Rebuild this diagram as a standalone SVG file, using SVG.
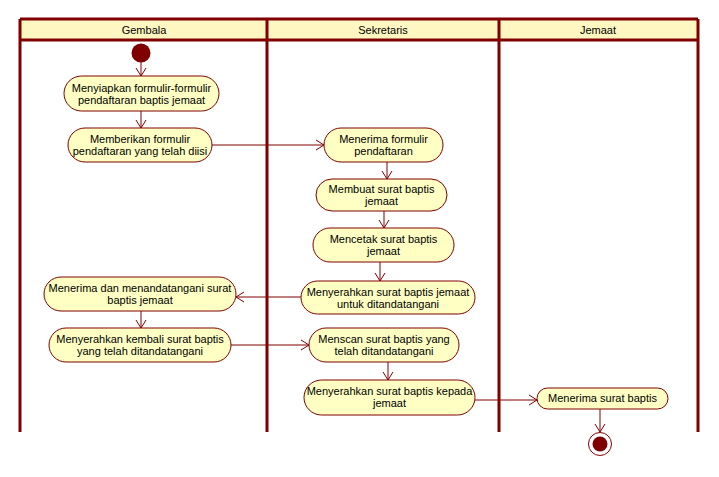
<svg xmlns="http://www.w3.org/2000/svg" width="719" height="477" viewBox="0 0 719 477">
  <style>
    .lane { stroke: #800000; stroke-width: 3; fill: none; }
    .head { fill: #FFF7C2; stroke: none; }
    .act rect { fill: #FFFFC4; stroke: #800000; stroke-width: 1; }
    text { font-family: "Liberation Sans", Arial, sans-serif; font-size: 11px; fill: #000; text-anchor: middle; }
    .flow { stroke: #800000; stroke-width: 1; fill: none; marker-end: url(#arrow); }
  </style>
  <defs>
    <marker id="arrow" markerWidth="10" markerHeight="12" refX="9" refY="6" orient="auto" markerUnits="userSpaceOnUse">
      <path d="M1,1 L9,6 L1,11" fill="none" stroke="#800000" stroke-width="1"/>
    </marker>
  </defs>
  <rect width="719" height="477" fill="#fff"/>

  <!-- swimlanes -->
  <g id="swimlanes">
    <rect class="head" x="20" y="19" width="678" height="21"/>
    <path class="lane" d="M20,19 H698 M20,40 H698 M20,19 V432 M267,19 V432 M499,19 V432 M698,19 V432"/>
    <text x="144" y="34">Gembala</text>
    <text x="383" y="34">Sekretaris</text>
    <text x="598" y="34">Jemaat</text>
  </g>

  <!-- connectors -->
  <g id="connectors">
    <path class="flow" d="M141,62 V76"/>
    <path class="flow" d="M141,111 V128"/>
    <path class="flow" d="M212,145 H324"/>
    <path class="flow" d="M387,162 V179"/>
    <path class="flow" d="M384,211 V228"/>
    <path class="flow" d="M380,262 V281"/>
    <path class="flow" d="M301,297 H236"/>
    <path class="flow" d="M141,311 V328"/>
    <path class="flow" d="M231,345 H309"/>
    <path class="flow" d="M388,362 V380"/>
    <path class="flow" d="M475,400 H537"/>
    <path class="flow" d="M600,409 V432"/>
  </g>

  <!-- start -->
  <g id="start">
    <circle cx="141" cy="53" r="9.5" fill="#800000"/>
  </g>

  <g id="a1" class="act">
    <rect x="64" y="76" width="155" height="35" rx="17.5"/>
    <text x="141.5" y="92">Menyiapkan formulir-formulir</text>
    <text x="141.5" y="104">pendaftaran baptis jemaat</text>
  </g>
  <g id="a2" class="act">
    <rect x="68" y="128" width="144" height="34" rx="17"/>
    <text x="140" y="143">Memberikan formulir</text>
    <text x="140" y="155">pendaftaran yang telah diisi</text>
  </g>
  <g id="a3" class="act">
    <rect x="324" y="128" width="119" height="34" rx="17"/>
    <text x="383.5" y="143">Menerima formulir</text>
    <text x="383.5" y="155">pendaftaran</text>
  </g>
  <g id="a4" class="act">
    <rect x="316" y="179" width="131" height="32" rx="16"/>
    <text x="381.5" y="193">Membuat surat baptis</text>
    <text x="381.5" y="205">jemaat</text>
  </g>
  <g id="a5" class="act">
    <rect x="313" y="228" width="141" height="34" rx="17"/>
    <text x="383.5" y="243">Mencetak surat baptis</text>
    <text x="383.5" y="255">jemaat</text>
  </g>
  <g id="a6" class="act">
    <rect x="301" y="281" width="174" height="33" rx="16.5"/>
    <text x="388" y="296">Menyerahkan surat baptis jemaat</text>
    <text x="388" y="308">untuk ditandatangani</text>
  </g>
  <g id="a7" class="act">
    <rect x="44" y="277" width="192" height="34" rx="17"/>
    <text x="140" y="292">Menerima dan menandatangani surat</text>
    <text x="140" y="304">baptis jemaat</text>
  </g>
  <g id="a8" class="act">
    <rect x="49" y="328" width="182" height="34" rx="17"/>
    <text x="140" y="343">Menyerahkan kembali surat baptis</text>
    <text x="140" y="355">yang telah ditandatangani</text>
  </g>
  <g id="a9" class="act">
    <rect x="309" y="328" width="150" height="34" rx="17"/>
    <text x="384" y="343">Menscan surat baptis yang</text>
    <text x="384" y="355">telah ditandatangani</text>
  </g>
  <g id="a10" class="act">
    <rect x="304" y="380" width="171" height="35" rx="17.5"/>
    <text x="389.5" y="395">Menyerahkan surat baptis kepada</text>
    <text x="389.5" y="407">jemaat</text>
  </g>
  <g id="a11" class="act">
    <rect x="537" y="388" width="131" height="21" rx="10.5"/>
    <text x="602.5" y="402">Menerima surat baptis</text>
  </g>

  <!-- end -->
  <g id="end">
    <circle cx="600" cy="444" r="11.5" fill="#fff" stroke="#800000" stroke-width="1"/>
    <circle cx="600" cy="444" r="7.5" fill="#800000"/>
  </g>
</svg>
